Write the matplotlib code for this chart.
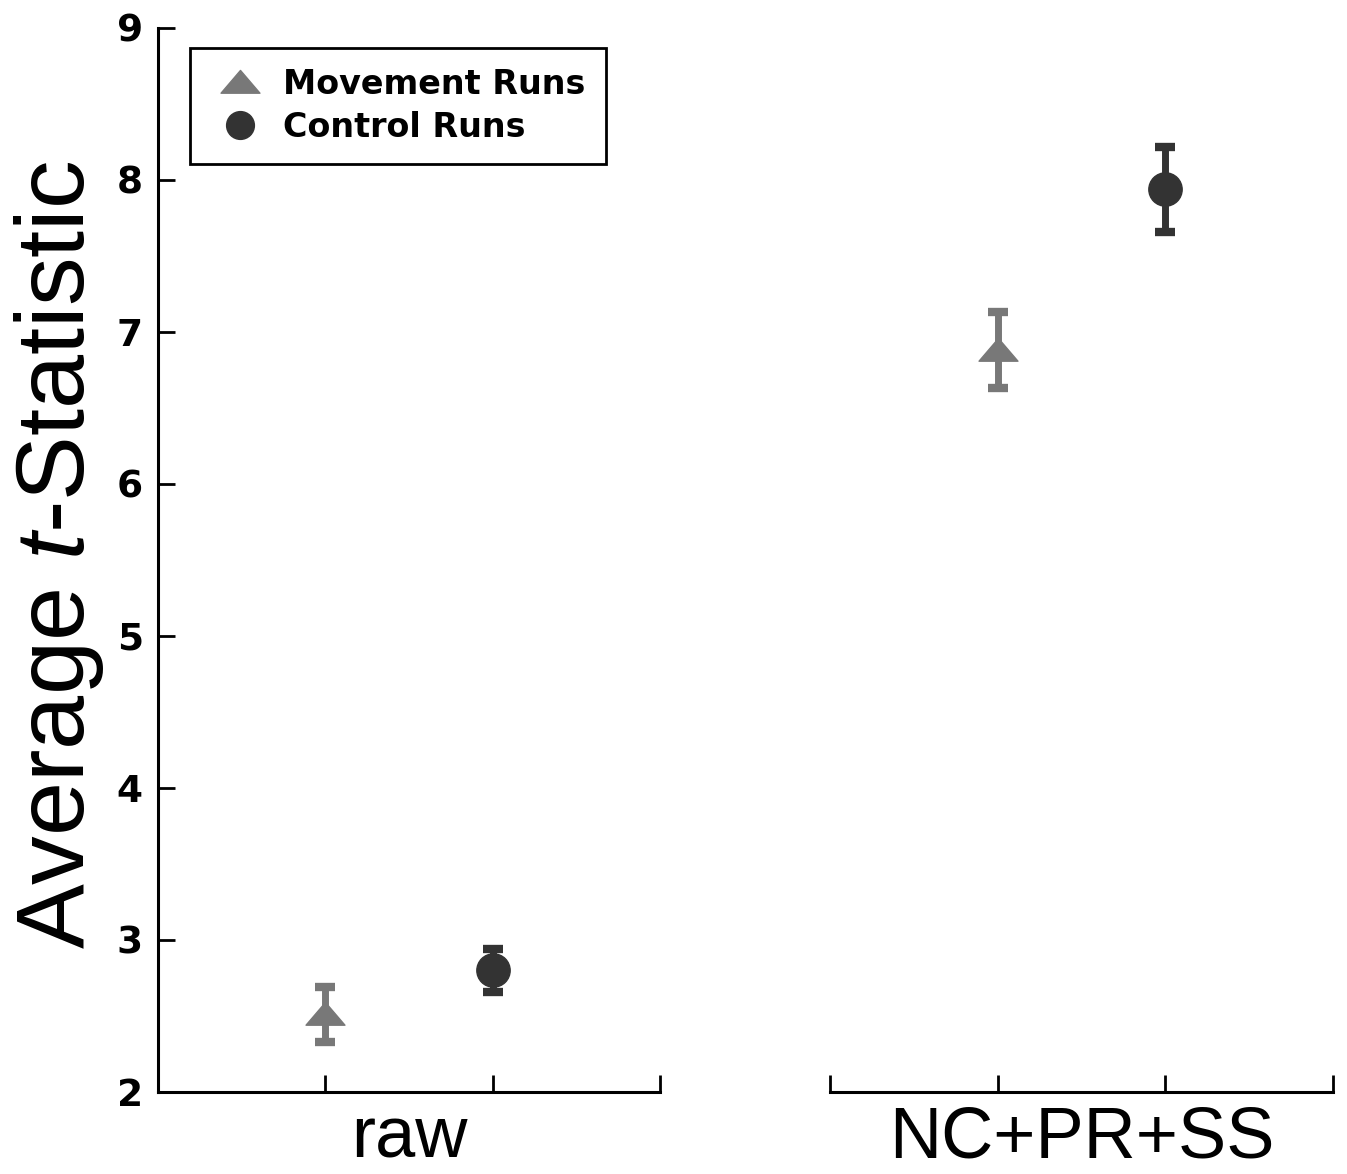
import matplotlib
matplotlib.use("Agg")
import matplotlib as mpl
import matplotlib.pyplot as plt
from matplotlib.path import Path
from matplotlib.lines import Line2D

mpl.rcParams["mathtext.fontset"] = "custom"
mpl.rcParams["mathtext.rm"] = "Liberation Sans"
mpl.rcParams["mathtext.it"] = "Liberation Sans:italic"

groups = ["raw", "NC+PR+SS"]
series = ["Movement Runs", "Control Runs"]
movement_mean = [2.51, 6.88]
movement_err = [0.18, 0.25]
control_mean = [2.80, 7.94]
control_err = [0.14, 0.28]
yticks = [2, 3, 4, 5, 6, 7, 8, 9]

c_move = "#787878"
c_ctrl = "#333333"

tri = Path([(-1, -0.55), (1, -0.55), (0, 0.62), (-1, -0.55)],
           [Path.MOVETO, Path.LINETO, Path.LINETO, Path.CLOSEPOLY])

W, H = 1347, 1174
fig = plt.figure(figsize=(W / 100, H / 100), dpi=100)
bottom = 1 - 1092 / H
height = (1092 - 28) / H
ax1 = fig.add_axes([158 / W, bottom, 502 / W, height])
ax2 = fig.add_axes([830 / W, bottom, 503 / W, height])

for i, ax in enumerate([ax1, ax2]):
    ax.errorbar([1], [movement_mean[i]], yerr=[movement_err[i]], fmt="none",
                ecolor=c_move, elinewidth=5, capsize=7.5, capthick=6, zorder=2)
    ax.plot([1], [movement_mean[i]], marker=tri, markersize=28, color=c_move,
            linestyle="none", zorder=3)
    ax.errorbar([2], [control_mean[i]], yerr=[control_err[i]], fmt="none",
                ecolor=c_ctrl, elinewidth=5, capsize=7.5, capthick=6, zorder=2)
    ax.plot([2], [control_mean[i]], marker="o", markersize=24, color=c_ctrl,
            linestyle="none", zorder=3)
    ax.set_xlim(0, 3)
    ax.set_ylim(2, 9)
    ax.set_xticks([0, 1, 2, 3])
    ax.set_xticklabels([])
    ax.tick_params(axis="x", direction="in", length=12, width=2)
    ax.spines["top"].set_visible(False)
    ax.spines["right"].set_visible(False)
    ax.spines["bottom"].set_linewidth(2.2)
    ax.spines["left"].set_linewidth(2.2)
    ax.patch.set_alpha(0)
    ax.text(1.5, (1092 - 1157) / 1064, groups[i], transform=ax.get_xaxis_transform(),
            ha="center", va="baseline", fontsize=52, family="Liberation Sans")

ax1.set_yticks(yticks)
ax1.set_yticklabels([str(v) for v in yticks], fontsize=27, fontweight="bold",
                    family="DejaVu Sans")
ax1.tick_params(axis="y", direction="in", length=12, width=2, pad=11)
ax2.spines["left"].set_visible(False)
ax2.set_yticks([])

fig.text(84 / W, 1 - 555 / H, r"Average $t$-Statistic", rotation=90,
         rotation_mode="anchor", ha="center", va="baseline", fontsize=70,
         family="Liberation Sans")

lh = [Line2D([], [], marker=tri, markersize=28, color=c_move, linestyle="none"),
      Line2D([], [], marker="o", markersize=20, color=c_ctrl, linestyle="none")]
leg = fig.legend(lh, series, loc="upper left", bbox_to_anchor=(190 / W, 1 - 48 / H),
                 frameon=True, fancybox=False, edgecolor="black", borderaxespad=0,
                 prop={"family": "DejaVu Sans", "weight": "bold", "size": 24},
                 handlelength=1.8, handletextpad=0.4, labelspacing=0.3,
                 borderpad=0.6, framealpha=1)
leg.get_frame().set_linewidth(2)

fig.savefig("out.png", dpi=100)
